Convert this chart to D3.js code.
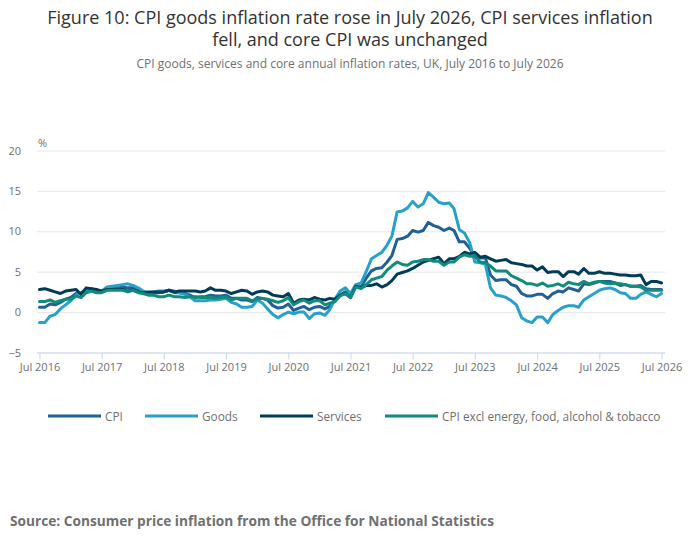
<!DOCTYPE html>
<html>
<head>
<meta charset="utf-8">
<script src="https://cdn.jsdelivr.net/npm/d3@7"></script>
<style>
  html, body { margin: 0; padding: 0; background: #fff; }
  svg { display: block; font-family: "Open Sans", sans-serif; }
</style>
</head>
<body>
<svg id="chart" width="700" height="549"></svg>
<script>
// ---- data (monthly, Jul 2016 to Jul 2026) ----
const startMonth = "2016-07";
const yTicks = [-5, 0, 5, 10, 15, 20];
const xTickLabels = ["Jul 2016","Jul 2017","Jul 2018","Jul 2019","Jul 2020","Jul 2021","Jul 2022","Jul 2023","Jul 2024","Jul 2025","Jul 2026"];
const seriesNames = ["CPI", "Goods", "Services", "CPI excl energy, food, alcohol & tobacco"];

const cpi = [0.6,0.6,1.0,0.9,1.2,1.6,
  1.8,2.3,2.3,2.7,2.9,2.6,2.6,2.9,3.0,3.0,3.1,3.0,
  3.0,2.7,2.5,2.4,2.4,2.4,2.5,2.7,2.4,2.4,2.3,2.1,
  1.8,1.9,1.9,2.1,2.0,2.0,2.1,1.7,1.7,1.5,1.5,1.3,
  1.8,1.7,1.5,0.8,0.5,0.6,1.0,0.2,0.5,0.7,0.3,0.6,
  0.7,0.4,0.7,1.5,2.1,2.5,2.0,3.2,3.1,4.2,5.1,5.4,
  5.5,6.2,7.0,9.0,9.1,9.4,10.1,9.9,10.1,11.1,10.7,10.5,
  10.1,10.4,10.1,8.7,8.7,7.9,6.8,6.7,6.7,4.6,3.9,4.0,
  4.0,3.4,3.2,2.3,2.0,2.0,2.2,2.2,1.7,2.3,2.6,2.5,
  3.0,2.8,2.6,3.5,3.4,3.6,3.8,3.8,3.8,3.6,3.3,3.4,
  3.2,3.2,3.3,2.9,2.8,2.8,2.8];

const goods = [-1.3,-1.3,-0.5,-0.3,0.4,0.9,
  1.4,2.1,2.4,2.7,2.9,2.5,2.6,3.1,3.2,3.3,3.4,3.5,
  3.3,3.0,2.6,2.4,2.5,2.6,2.6,2.7,2.6,2.4,2.2,1.9,
  1.4,1.4,1.4,1.5,1.5,1.6,1.7,1.2,1.0,0.6,0.6,0.7,
  1.5,1.1,0.4,-0.3,-0.7,-0.3,0.0,-0.2,0.0,0.0,-0.8,-0.2,
  -0.1,-0.4,0.3,1.6,2.6,3.0,2.3,3.4,3.6,5.0,6.6,7.0,
  7.4,8.3,9.4,12.4,12.5,12.9,13.7,13.0,13.4,14.8,14.2,13.6,
  13.4,13.5,12.8,10.2,9.8,8.6,6.2,6.1,5.9,3.0,2.1,2.0,
  1.8,1.4,0.9,-0.7,-1.1,-1.3,-0.6,-0.6,-1.3,-0.3,0.2,0.6,
  0.8,0.8,0.6,1.5,1.9,2.3,2.7,2.9,3.0,2.8,2.4,2.3,
  1.7,1.7,2.2,2.5,2.2,1.9,2.3];

const services = [2.8,2.9,2.7,2.5,2.3,2.6,
  2.7,2.8,2.2,3.0,2.9,2.8,2.6,2.8,2.8,2.8,2.8,2.6,
  2.7,2.5,2.4,2.5,2.5,2.5,2.5,2.7,2.5,2.6,2.6,2.6,
  2.6,2.5,2.6,3.0,2.7,2.7,2.6,2.3,2.5,2.7,2.6,2.2,
  2.5,2.6,2.5,2.1,2.0,1.9,2.3,1.1,1.5,1.6,1.5,1.8,
  1.6,1.5,1.7,1.6,2.1,2.3,1.8,3.2,3.0,3.3,3.3,3.5,
  3.1,3.4,3.9,4.7,4.9,5.1,5.4,5.8,6.2,6.4,6.6,6.8,
  6.0,6.6,6.6,6.9,7.4,7.2,7.4,6.8,6.9,6.6,6.3,6.4,
  6.5,6.1,6.0,5.9,5.7,5.7,5.2,5.6,4.9,5.0,5.0,4.4,
  5.0,5.0,4.7,5.4,4.8,4.8,5.0,4.8,4.8,4.7,4.6,4.6,
  4.5,4.5,4.6,3.4,3.8,3.8,3.6];

const core = [1.3,1.3,1.5,1.2,1.4,1.6,
  1.6,2.0,1.8,2.4,2.6,2.4,2.4,2.7,2.7,2.7,2.7,2.5,
  2.7,2.4,2.3,2.1,2.1,1.9,1.9,2.1,1.9,1.9,1.8,1.9,
  1.9,1.8,1.8,1.8,1.7,1.8,1.9,1.5,1.7,1.7,1.7,1.4,
  1.6,1.7,1.6,1.4,1.2,1.4,1.8,0.9,1.3,1.5,1.1,1.4,
  1.4,0.9,1.1,1.3,2.0,2.3,1.8,3.1,2.9,3.4,4.0,4.2,
  4.4,5.2,5.7,6.2,5.9,5.8,6.2,6.3,6.5,6.5,6.3,6.3,
  5.8,6.2,6.2,6.8,7.1,6.9,6.9,6.2,6.1,5.7,5.1,5.1,
  5.1,4.5,4.2,3.9,3.5,3.5,3.3,3.6,3.2,3.3,3.5,3.2,
  3.7,3.5,3.4,3.8,3.5,3.7,3.8,3.6,3.5,3.6,3.5,3.4,
  3.2,3.2,3.1,2.7,2.7,2.7,2.7];

const seriesValues = [cpi, goods, services, core];
const seriesColors = ["#206095", "#27a0cc", "#003c57", "#118c7b"];

// ---- layout ----
const svg = d3.select("#chart");
const W = 700;
const plot = { left: 37, right: 665, top: 150.5, bottom: 352.5 };

const start = d3.timeParse("%Y-%m")(startMonth);
const dates = cpi.map((_, i) => d3.timeMonth.offset(start, i));

const x = d3.scaleTime()
  .domain([dates[0], dates[dates.length - 1]])
  .range([39.5, 661.5]);
const y = d3.scaleLinear().domain([-5, 20]).range([plot.bottom, plot.top]);

// Title (two lines)
svg.append("text")
  .attr("x", W / 2).attr("y", 24).attr("text-anchor", "middle")
  .attr("fill", "#333").style("font-size", "18px")
  .text("Figure 10: CPI goods inflation rate rose in July 2026, CPI services inflation");
svg.append("text")
  .attr("x", W / 2).attr("y", 45.5).attr("text-anchor", "middle")
  .attr("fill", "#333").style("font-size", "18px")
  .text("fell, and core CPI was unchanged");

svg.append("text")
  .attr("x", W / 2).attr("y", 68).attr("text-anchor", "middle")
  .attr("fill", "#707070").style("font-size", "12px")
  .text("CPI goods, services and core annual inflation rates, UK, July 2016 to July 2026");

// Gridlines + y labels
const yAxis = d3.axisLeft(y).tickValues(yTicks)
  .tickSize(-(plot.right - plot.left)).tickPadding(16);
const gy = svg.append("g").attr("transform", `translate(${plot.left},0)`).call(yAxis);
gy.select(".domain").remove();
gy.selectAll(".tick line").attr("stroke", "#e6e6e6").attr("stroke-width", 1);
gy.selectAll(".tick text").attr("fill", "#707070").style("font-size", "11px")
  .style("font-family", "'Open Sans', sans-serif");

svg.append("text").attr("x", 38).attr("y", 147)
  .attr("fill", "#707070").style("font-size", "11px").text("%");

// X axis
const xTickDates = xTickLabels.map(s => d3.timeParse("%b %Y")(s));
const xAxis = d3.axisBottom(x).tickValues(xTickDates)
  .tickFormat(d3.timeFormat("%b %Y")).tickSize(7).tickPadding(4);
const gx = svg.append("g").attr("transform", `translate(0,${plot.bottom})`).call(xAxis);
gx.select(".domain").attr("d", `M${plot.left},0.5H${plot.right}`).attr("stroke", "#ccd6eb");
gx.selectAll(".tick line").attr("stroke", "#ccd6eb");
gx.selectAll(".tick text").attr("fill", "#707070").style("font-size", "11px")
  .style("font-family", "'Open Sans', sans-serif");

// Lines
const line = d3.line().x((d, i) => x(dates[i])).y(d => y(d));
seriesValues.forEach((vals, k) => {
  svg.append("path").datum(vals)
    .attr("fill", "none").attr("stroke", seriesColors[k])
    .attr("stroke-width", 3).attr("stroke-linejoin", "round").attr("stroke-linecap", "round")
    .attr("d", line);
});

// Legend
const legendX = [48, 145, 260, 385];
const lg = svg.append("g");
seriesNames.forEach((name, k) => {
  const g = lg.append("g").attr("transform", `translate(${legendX[k]},416)`);
  g.append("line").attr("x1", 0).attr("x2", 53).attr("y1", 0).attr("y2", 0)
    .attr("stroke", seriesColors[k]).attr("stroke-width", 3);
  g.append("text").attr("x", 57).attr("y", 4.5)
    .attr("fill", "#707070").style("font-size", "11.8px").text(name);
});

// Source
svg.append("text").attr("x", 10).attr("y", 526)
  .attr("fill", "#707070").style("font-size", "13.7px").style("font-weight", "bold")
  .text("Source: Consumer price inflation from the Office for National Statistics");
</script>
</body>
</html>
